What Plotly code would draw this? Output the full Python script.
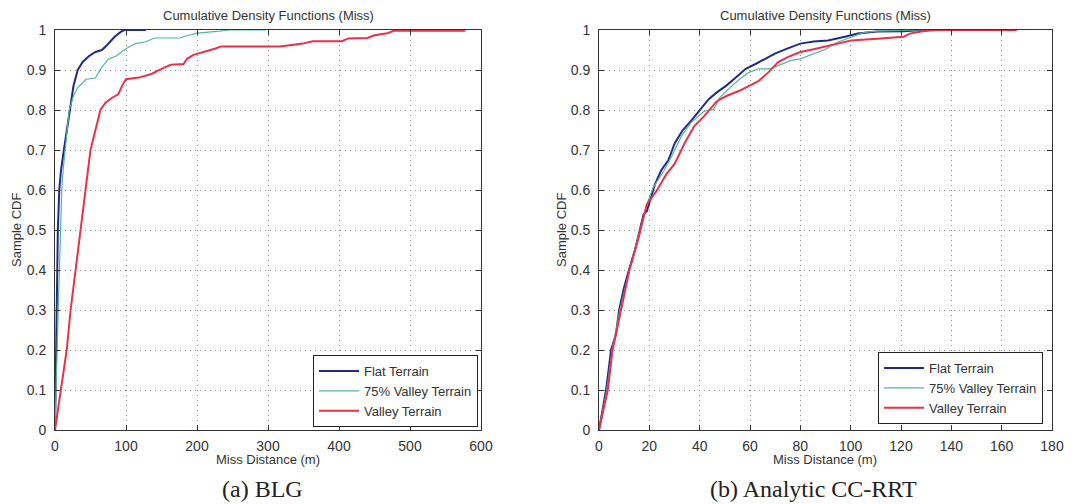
import plotly.graph_objects as go

# ---------------- data ----------------
series_names = ["Flat Terrain", "75% Valley Terrain", "Valley Terrain"]
series_colors = ["#222a88", "#52b59c", "#e8324c"]
series_widths = [2.0, 1.2, 2.0]

# (a) BLG
flat_blg_x = [0, 0.8, 1.5, 2.2, 3, 4, 6, 8.5, 12.5, 17, 21, 26, 32, 39, 48, 57, 66, 73, 84, 93, 98, 128]
flat_blg_y = [0, 0.1, 0.2, 0.3, 0.4, 0.5, 0.6, 0.65, 0.7, 0.76, 0.8, 0.86, 0.9, 0.92, 0.935, 0.945, 0.95, 0.962, 0.983, 0.996, 1.0, 1.0]

valley75_blg_x = [0, 1, 2, 3, 4.5, 6, 7.5, 9.5, 12, 17, 20, 26, 32, 44, 57, 64, 75, 86, 100, 113, 127, 140, 166, 176, 184, 200, 232, 245, 296]
valley75_blg_y = [0, 0.05, 0.1, 0.2, 0.3, 0.4, 0.5, 0.6, 0.66, 0.745, 0.8, 0.835, 0.856, 0.877, 0.88, 0.902, 0.927, 0.935, 0.953, 0.966, 0.97, 0.98, 0.98, 0.98, 0.985, 0.992, 0.997, 1.0, 1.0]

valley_blg_x = [0, 8.5, 16.5, 22, 29, 35.5, 42, 50, 64, 71, 80, 89, 95.5, 100, 118, 136, 150, 163, 181, 186, 195, 211, 225, 234, 317, 349, 363, 404, 413, 440, 450, 468, 477, 578]
valley_blg_y = [0, 0.1, 0.2, 0.3, 0.4, 0.5, 0.6, 0.7, 0.8, 0.818, 0.83, 0.839, 0.864, 0.877, 0.881, 0.89, 0.903, 0.913, 0.915, 0.928, 0.938, 0.945, 0.953, 0.959, 0.959, 0.966, 0.972, 0.972, 0.979, 0.98, 0.987, 0.992, 0.998, 0.998]

# (b) Analytic CC-RRT
flat_rrt_x = [0, 2.8, 4.8, 6.7, 8, 9.9, 11.9, 14.5, 16.4, 17.7, 19, 20.3, 22.2, 24.8, 27.6, 30.1, 33.3, 36.5, 40.4, 43.6, 46.8, 50.6, 54.5, 58.3, 62.2, 66, 69.9, 75, 80, 85.3, 91, 97.7, 102.8, 110.6, 121, 128.6, 162]
flat_rrt_y = [0, 0.1, 0.2, 0.238, 0.3, 0.355, 0.4, 0.455, 0.505, 0.539, 0.547, 0.572, 0.614, 0.65, 0.675, 0.717, 0.75, 0.772, 0.801, 0.827, 0.844, 0.861, 0.882, 0.903, 0.915, 0.928, 0.941, 0.954, 0.966, 0.971, 0.974, 0.983, 0.991, 0.996, 0.997, 1.0, 1.0]

valley75_rrt_x = [0, 3.1, 5.2, 8.3, 12.1, 15.7, 19, 21.5, 25.5, 28.8, 32.7, 36.5, 41.7, 45.5, 48, 52, 55.8, 59.6, 63.5, 68, 72.4, 76.3, 80, 85.3, 90, 95, 100.3, 105.4, 110.6, 127, 140]
valley75_rrt_y = [0, 0.1, 0.2, 0.3, 0.4, 0.489, 0.564, 0.606, 0.645, 0.683, 0.734, 0.768, 0.797, 0.801, 0.831, 0.856, 0.877, 0.894, 0.903, 0.903, 0.915, 0.924, 0.928, 0.941, 0.952, 0.97, 0.983, 0.994, 0.997, 1.0, 1.0]

valley_rrt_x = [0, 3.5, 5.4, 8.6, 12.1, 15.7, 19, 22.8, 26.7, 30.1, 34, 37.8, 41.7, 46.8, 50.6, 55.8, 59.6, 63.5, 67.3, 71.2, 75, 80, 85.3, 91, 100.3, 110.6, 121, 123.5, 128.6, 133.8, 166]
valley_rrt_y = [0, 0.1, 0.2, 0.3, 0.4, 0.48, 0.564, 0.597, 0.639, 0.666, 0.717, 0.759, 0.784, 0.822, 0.835, 0.848, 0.861, 0.873, 0.894, 0.92, 0.932, 0.945, 0.952, 0.961, 0.974, 0.978, 0.983, 0.991, 0.997, 1.0, 1.0]

y_ticks = [0, 0.1, 0.2, 0.3, 0.4, 0.5, 0.6, 0.7, 0.8, 0.9, 1]
y_tick_text = ["0", "0.1", "0.2", "0.3", "0.4", "0.5", "0.6", "0.7", "0.8", "0.9", "1"]
x_ticks_blg = [0, 100, 200, 300, 400, 500, 600]
x_ticks_rrt = [0, 20, 40, 60, 80, 100, 120, 140, 160, 180]

plot_title = "Cumulative Density Functions (Miss)"
x_title = "Miss Distance (m)"
y_title = "Sample CDF"
captions = ["(a) BLG", "(b) Analytic CC-RRT"]

# ---------------- figure ----------------
W, H = 1078, 504
TXT = "#333333"
FONT = "Liberation Sans, Arial, sans-serif"

fig = go.Figure()

blg = [(flat_blg_x, flat_blg_y), (valley75_blg_x, valley75_blg_y), (valley_blg_x, valley_blg_y)]
rrt = [(flat_rrt_x, flat_rrt_y), (valley75_rrt_x, valley75_rrt_y), (valley_rrt_x, valley_rrt_y)]

for i, (xs, ys) in enumerate(blg):
    fig.add_trace(go.Scatter(x=xs, y=ys, mode="lines", name=series_names[i],
                             line=dict(color=series_colors[i], width=series_widths[i]),
                             xaxis="x", yaxis="y", legend="legend"))
for i, (xs, ys) in enumerate(rrt):
    fig.add_trace(go.Scatter(x=xs, y=ys, mode="lines", name=series_names[i],
                             line=dict(color=series_colors[i], width=series_widths[i]),
                             xaxis="x2", yaxis="y2", legend="legend2"))

def px_x(p):
    return p / W

def px_y(p):
    return 1 - p / H

dom_y = [px_y(430), px_y(30)]
dom_x1 = [px_x(55), px_x(481)]
dom_x2 = [px_x(599), px_x(1052)]

axis_common = dict(showline=True, linecolor="#333333", linewidth=1, mirror="ticks",
                   ticks="inside", ticklen=5, tickcolor="#333333", automargin=False,
                   showgrid=True, gridcolor="#8a8a8a", griddash="1px,4px", gridwidth=1,
                   zeroline=False, tickfont=dict(family=FONT, size=14, color=TXT))

legend_common = dict(xanchor="right", yanchor="bottom", bgcolor="white",
                     bordercolor="#222222", borderwidth=1, itemwidth=40,
                     font=dict(family=FONT, size=13, color=TXT), tracegroupgap=0)

fig.update_layout(
    width=W, height=H, margin=dict(l=0, r=0, t=0, b=0, autoexpand=False),
    paper_bgcolor="white", plot_bgcolor="white",
    xaxis=dict(domain=dom_x1, range=[0, 600], tickvals=x_ticks_blg, anchor="y",
               ticklabelstandoff=3, **axis_common),
    yaxis=dict(domain=dom_y, range=[0, 1], tickvals=y_ticks, ticktext=y_tick_text, anchor="x",
               ticklabelstandoff=5, **axis_common),
    xaxis2=dict(domain=dom_x2, range=[0, 180], tickvals=x_ticks_rrt, anchor="y2",
                ticklabelstandoff=3, **axis_common),
    yaxis2=dict(domain=dom_y, range=[0, 1], tickvals=y_ticks, ticktext=y_tick_text, anchor="x2",
                ticklabelstandoff=5, **axis_common),
    legend=dict(x=px_x(478), y=px_y(427), **legend_common),
    legend2=dict(x=px_x(1043), y=px_y(424), **legend_common),
    showlegend=True,
)

ann = []
for cx, ycx in [(268, 17), (825, 562)]:
    ann.append(dict(x=px_x(cx), y=px_y(15), xref="paper", yref="paper", text=plot_title,
                    xanchor="center", yanchor="middle",
                    showarrow=False, font=dict(family=FONT, size=13, color=TXT)))
    ann.append(dict(x=px_x(cx), y=px_y(459), xref="paper", yref="paper", text=x_title,
                    xanchor="center", yanchor="middle",
                    showarrow=False, font=dict(family=FONT, size=13, color=TXT)))
    ann.append(dict(x=px_x(ycx), y=px_y(230), xref="paper", yref="paper", text=y_title,
                    xanchor="center", yanchor="middle",
                    showarrow=False, textangle=-90, font=dict(family=FONT, size=13, color=TXT)))
for cx, cap in zip([262, 813], captions):
    ann.append(dict(x=px_x(cx), y=px_y(489), xref="paper", yref="paper", text=cap,
                    xanchor="center", yanchor="middle",
                    showarrow=False, font=dict(family="Liberation Serif, serif", size=24, color="#222222")))
fig.update_layout(annotations=ann)

fig.write_html("out.html", config={"displayModeBar": False},
               post_script="document.body.style.margin='0px';document.body.style.overflow='hidden';")
